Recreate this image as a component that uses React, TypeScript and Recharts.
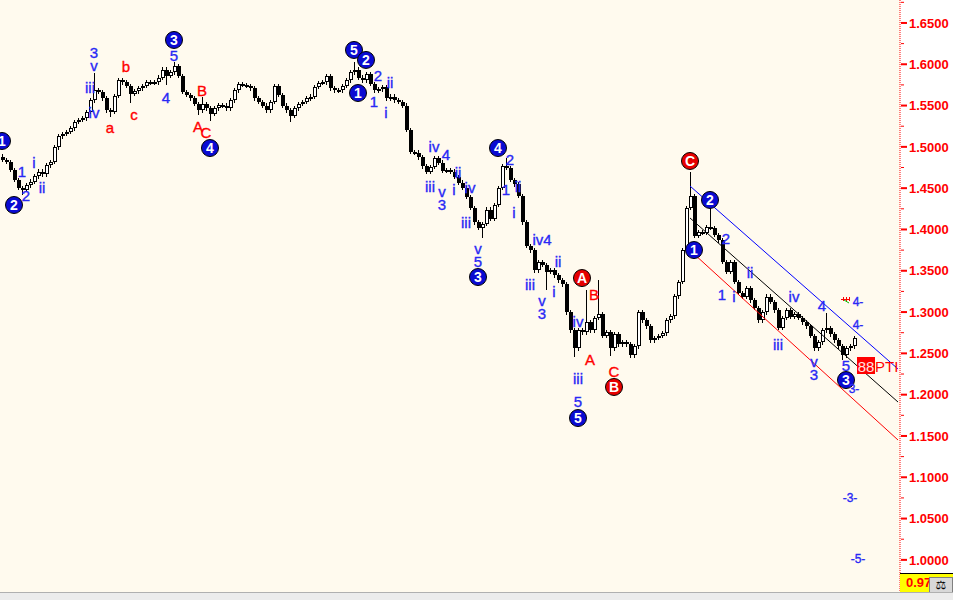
import { ComposedChart, Bar, XAxis, YAxis, ReferenceLine, ReferenceDot } from "recharts";

// closing prices, one per session (open = previous close)
const CLOSES = [
  1.4841, 1.4817, 1.472, 1.4599, 1.4502, 1.4478, 1.4538, 1.4575, 1.4647, 1.4696,
  1.4671, 1.478, 1.4817, 1.4998, 1.5131, 1.5156, 1.518, 1.5228, 1.5301, 1.5325,
  1.5349, 1.5422, 1.5567, 1.5688, 1.5664, 1.5591, 1.5446, 1.5422, 1.5616, 1.5809,
  1.5785, 1.5737, 1.564, 1.5676, 1.5712, 1.5737, 1.5785, 1.5773, 1.5785, 1.5834,
  1.5931, 1.5858, 1.5906, 1.5979, 1.5858, 1.5664, 1.5628, 1.5591, 1.5519, 1.5446,
  1.5519, 1.547, 1.5398, 1.547, 1.5507, 1.5495, 1.547, 1.5567, 1.5688, 1.5761,
  1.5749, 1.5737, 1.5712, 1.5591, 1.5543, 1.5495, 1.5446, 1.5543, 1.5737, 1.5628,
  1.5495, 1.5446, 1.5374, 1.547, 1.5519, 1.5543, 1.5591, 1.5604, 1.5725, 1.5773,
  1.5785, 1.5858, 1.5712, 1.5688, 1.5688, 1.5737, 1.5809, 1.5906, 1.5931, 1.5834,
  1.5809, 1.5882, 1.5761, 1.5688, 1.57, 1.5725, 1.5591, 1.5604, 1.5567, 1.5543,
  1.5495, 1.5204, 1.4938, 1.4926, 1.4877, 1.4768, 1.4696, 1.4756, 1.4865, 1.4805,
  1.4708, 1.472, 1.4696, 1.4635, 1.4563, 1.4502, 1.4393, 1.426, 1.409, 1.4018,
  1.4066, 1.4236, 1.4127, 1.4296, 1.4502, 1.4768, 1.4744, 1.4599, 1.455, 1.4405,
  1.409, 1.38, 1.3751, 1.3508, 1.3606, 1.357, 1.3485, 1.3508, 1.3448, 1.3387,
  1.3339, 1.3, 1.2781, 1.2564, 1.2781, 1.2757, 1.2879, 1.2781, 1.2928, 1.2976,
  1.271, 1.2757, 1.2564, 1.2734, 1.2613, 1.2637, 1.2613, 1.2479, 1.2588, 1.3,
  1.2903, 1.2831, 1.266, 1.2686, 1.271, 1.2746, 1.2903, 1.2952, 1.3194, 1.3364,
  1.3751, 1.426, 1.4405, 1.3921, 1.3969, 1.3957, 1.403, 1.4018, 1.3933, 1.3872,
  1.3606, 1.3485, 1.3606, 1.3364, 1.3231, 1.3183, 1.3291, 1.3145, 1.3049, 1.2903,
  1.3, 1.3183, 1.3122, 1.3024, 1.2807, 1.2928, 1.3024, 1.294, 1.2976, 1.2928,
  1.2879, 1.2831, 1.271, 1.2564, 1.2637, 1.2781, 1.2807, 1.2734, 1.266, 1.2588,
  1.2479, 1.2564, 1.2588, 1.2686,
];
const FIRST_OPEN = 1.488;
const WICK = 0.003;

// long shadows [session, price]
const HIGH_SPIKES = [
  [23, 1.5894], [43, 1.6028], [50, 1.5604], [88, 1.6028], [126, 1.4865],
  [146, 1.3266], [149, 1.3388], [172, 1.4696], [177, 1.4272], [206, 1.2988],
];
const LOW_SPIKES = [
  [5, 1.4417], [27, 1.5361], [32, 1.5531], [41, 1.5749], [49, 1.5386], [52, 1.5313],
  [72, 1.5301], [120, 1.3897], [136, 1.3266], [143, 1.2455], [152, 1.2467], [210, 1.2418],
];
const EMPTY_SLOTS = 11;

const Y_MIN = 0.9611;
const Y_MAX = 1.6778;
const Y_TICKS = [
  1.0, 1.025, 1.05, 1.075, 1.1, 1.125, 1.15, 1.175, 1.2, 1.225, 1.25, 1.275, 1.3,
  1.325, 1.35, 1.375, 1.4, 1.425, 1.45, 1.475, 1.5, 1.525, 1.55, 1.575, 1.6, 1.625, 1.65, 1.675,
];

// circled wave labels [session, price, text, colour]
const CIRCLES = [
  [0, 1.5071, "1", "b"], [3, 1.4296, "2", "b"], [43, 1.6294, "3", "b"], [52, 1.4986, "4", "b"],
  [88, 1.6173, "5", "b"], [91, 1.6052, "2", "b"], [89, 1.5652, "1", "b"], [124, 1.4986, "4", "b"],
  [119, 1.3424, "3", "b"], [144, 1.1717, "5", "b"], [173, 1.3751, "1", "b"], [177, 1.4357, "2", "b"],
  [211, 1.2177, "3", "b"], [145, 1.3412, "A", "r"], [153, 1.2093, "B", "r"], [172, 1.4829, "C", "r"],
];

// plain wave labels [session, price, text, colour]; "\n" stacks two labels
const TEXTS = [
  [5, 1.4696, "1", "b"], [6, 1.4405, "2", "b"], [8, 1.4805, "i", "b"], [10, 1.4502, "ii", "b"],
  [23, 1.6063, "3\nv", "b"], [22, 1.5713, "iii", "b"], [23, 1.541, "iv", "b"],
  [43, 1.61, "5", "b"], [41, 1.5592, "4", "b"],
  [27, 1.5228, "a", "r"], [31, 1.5967, "b", "r"], [33, 1.5386, "c", "r"],
  [49, 1.524, "A", "r"], [50, 1.5676, "B", "r"], [51, 1.5168, "C", "r"],
  [93, 1.5543, "1", "b"], [94, 1.5858, "2", "b"], [97, 1.5773, "ii", "b"], [96, 1.541, "i", "b"],
  [108, 1.4998, "iv", "b"], [111, 1.4901, "4", "b"], [107, 1.4514, "iii", "b"],
  [110, 1.4375, "v\n3", "b"], [114, 1.4684, "ii", "b"], [113, 1.4478, "i", "b"],
  [117, 1.4502, "iv", "b"], [116, 1.4078, "iii", "b"], [119, 1.369, "v\n5", "b"],
  [126, 1.4478, "1", "b"], [127, 1.4841, "2", "b"], [129, 1.4514, "ii", "b"], [128, 1.4199, "i", "b"],
  [135, 1.3872, "iv4", "b"], [132, 1.3327, "iii", "b"], [135, 1.3055, "v\n3", "b"],
  [139, 1.3606, "ii", "b"], [138, 1.3243, "i", "b"], [144, 1.2882, "iv", "b"], [144, 1.2192, "iii", "b"],
  [144, 1.1911, "5", "b"],
  [147, 1.2419, "A", "r"], [148, 1.3206, "B", "r"], [153, 1.2274, "C", "r"],
  [181, 1.3884, "2", "b"], [180, 1.3206, "1", "b"], [183, 1.3182, "i", "b"], [187, 1.3473, "ii", "b"],
  [194, 1.2601, "iii", "b"], [198, 1.3182, "iv", "b"], [205, 1.3073, "4", "b"],
  [203, 1.2322, "v\n3", "b"], [211, 1.2347, "5", "b"],
];

// target marks on the right [session, price, text]
const TARGETS = [
  [214, 1.3122, "4-"], [214, 1.2842, "4-"], [213, 1.2068, "3-"], [212, 1.0749, "-3-"], [214, 1.001, "-5-"],
];

// channel lines [session, price] -> [session, price]
const CHANNELS = [
  { from: [172, 1.4526], to: [224, 1.2311], color: "#0000FF" },
  { from: [172, 1.4139], to: [224, 1.1911], color: "#000000" },
  { from: [173, 1.3703], to: [224, 1.1451], color: "#FF0000" },
];

const BLUE = "#2828F5";
const RED = "#FF0000";
const FONT = "Arial, 'Liberation Sans', sans-serif";

const highFix = new Map(HIGH_SPIKES.map(([i, p]) => [i, p]));
const lowFix = new Map(LOW_SPIKES.map(([i, p]) => [i, p]));

const data = [
  ...CLOSES.map((c, i) => {
    const o = i === 0 ? FIRST_OPEN : CLOSES[i - 1];
    const hi = highFix.get(i) ?? Math.max(o, c) + WICK;
    const lo = lowFix.get(i) ?? Math.min(o, c) - WICK;
    return { i, o, c, hi, lo, range: [lo, hi] };
  }),
  ...Array.from({ length: EMPTY_SLOTS }, (_, k) => ({ i: CLOSES.length + k })),
];

const Candle = (props: any) => {
  const { x, y, width, height, payload } = props;
  if (!payload || payload.c == null) return null;
  const { o, c, hi, lo } = payload;
  const top = Math.min(y, y + height);
  const bot = Math.max(y, y + height);
  const py = (p: number) => top + ((hi - p) / (hi - lo)) * (bot - top);
  const cx = Math.floor(x + width / 2) + 0.5;
  const left = cx - 1.5;
  const bTop = Math.round(py(Math.max(o, c)));
  const bBot = Math.max(Math.round(py(Math.min(o, c))), bTop + 2);
  const up = c >= o;
  return (
    <g shapeRendering="crispEdges">
      <line x1={cx} x2={cx} y1={Math.round(top)} y2={Math.round(bot)} stroke="#000" strokeWidth={1} />
      {up ? (
        <rect x={left + 0.5} y={bTop + 0.5} width={3} height={bBot - bTop - 1} fill="#fff" stroke="#000" strokeWidth={1} />
      ) : (
        <rect x={left} y={bTop} width={4} height={bBot - bTop} fill="#000" />
      )}
    </g>
  );
};

const PriceTick = (props: any) => {
  const { x, y, payload } = props;
  const v = payload.value;
  const major = Math.abs(Math.round(v * 20) - v * 20) < 1e-6;
  return (
    <g>
      <line x1={x + 1} x2={x + (major ? 7 : 4)} y1={y} y2={y} stroke={RED} strokeWidth={major ? 2 : 1} />
      {major && v < 1.66 && (
        <text x={x + 9} y={y} dy="0.36em" fill={RED} fontSize={13} fontWeight="bold" fontFamily={FONT}>
          {v.toFixed(4)}
        </text>
      )}
    </g>
  );
};

const circleShape = (text: string, kind: string) => (p: any) => (
  <g>
    <circle cx={p.cx} cy={p.cy} r={8.5} fill={kind === "r" ? "#E60000" : "#0A0AD2"} stroke="#000" strokeWidth={1} />
    <text x={p.cx} y={p.cy} dy="0.37em" textAnchor="middle" fill="#fff" fontSize={14} fontWeight="bold" fontFamily={FONT}>
      {text}
    </text>
  </g>
);

const textShape = (text: string, kind: string, size = 15) => (p: any) => {
  const col = kind === "r" ? RED : BLUE;
  const lines = text.split("\n");
  const step = 13;
  const y0 = p.cy - ((lines.length - 1) * step) / 2;
  return (
    <text x={p.cx} y={y0} textAnchor="middle" fill={col} stroke={col} strokeWidth={0.35} fontSize={size} fontFamily={FONT}>
      {lines.map((ln, k) => (
        <tspan key={k} x={p.cx} y={y0 + k * step} dy="0.36em">
          {ln}
        </tspan>
      ))}
    </text>
  );
};

const ptiShape = (p: any) => (
  <g>
    <rect x={p.cx - 9} y={p.cy - 9} width={18} height={17} fill={RED} />
    <text x={p.cx} y={p.cy} dy="0.37em" textAnchor="middle" fill="#FFE0E0" fontSize={15} fontFamily={FONT}>88</text>
    <text x={p.cx + 9} y={p.cy} dy="0.37em" fill={RED} fontSize={15} fontFamily={FONT}>PTI</text>
  </g>
);

const markShape = (p: any) => (
  <g shapeRendering="crispEdges">
    <line x1={p.cx - 5} x2={p.cx + 4} y1={p.cy} y2={p.cy} stroke={RED} />
    <line x1={p.cx - 3} x2={p.cx - 3} y1={p.cy - 2} y2={p.cy + 2} stroke={RED} />
    <line x1={p.cx} x2={p.cx} y1={p.cy - 2} y2={p.cy + 2} stroke={RED} />
    <line x1={p.cx + 3} x2={p.cx + 3} y1={p.cy - 2} y2={p.cy + 2} stroke={RED} />
    <line x1={p.cx - 2} x2={p.cx + 3} y1={p.cy + 1} y2={p.cy + 4} stroke="#00C000" shapeRendering="auto" />
  </g>
);

const App = () => {
  return (
    <div style={{ position: "fixed", left: 0, top: 0, width: 953, height: 600, background: "#fff", overflow: "hidden" }}>
      <div style={{ position: "absolute", left: 0, top: 0, width: 900, height: 592, background: "#FFFAEE" }} />
      <div style={{ position: "absolute", left: 0, top: 0 }}>
        <ComposedChart width={953} height={592} data={data} margin={{ top: 0, right: 0, left: 0, bottom: 0 }}>
          <XAxis dataKey="i" type="category" hide />
          <YAxis
            orientation="right"
            width={53}
            domain={[Y_MIN, Y_MAX]}
            allowDataOverflow
            ticks={Y_TICKS}
            interval={0}
            tickSize={0}
            tickMargin={0}
            tickLine={false}
            axisLine={{ stroke: RED, strokeDasharray: "1 1" }}
            tick={<PriceTick />}
          />
          <Bar dataKey="range" barSize={3} isAnimationActive={false} shape={(p: any) => <Candle {...p} />} />
          {CHANNELS.map((ch, k) => (
            <ReferenceLine
              key={`ch-${k}`}
              segment={[{ x: ch.from[0], y: ch.from[1] }, { x: ch.to[0], y: ch.to[1] }]}
              stroke={ch.color}
              strokeWidth={1}
              ifOverflow="visible"
            />
          ))}
          {TEXTS.map(([i, p, t, k], n) => (
            <ReferenceDot key={`t-${n}`} x={i} y={p} r={6} ifOverflow="visible" shape={textShape(t as string, k as string)} />
          ))}
          {CIRCLES.map(([i, p, t, k], n) => (
            <ReferenceDot key={`c-${n}`} x={i} y={p} r={8} ifOverflow="visible" shape={circleShape(t as string, k as string)} />
          ))}
          {TARGETS.map(([i, p, t], n) => (
            <ReferenceDot key={`g-${n}`} x={i} y={p} r={6} ifOverflow="visible" shape={textShape(t as string, "b", 12)} />
          ))}
          <ReferenceDot x={211} y={1.3158} r={4} ifOverflow="visible" shape={markShape} />
          <ReferenceDot x={216} y={1.2347} r={8} ifOverflow="visible" shape={ptiShape} />
        </ComposedChart>
      </div>
      <div
        style={{
          position: "absolute", left: 900, top: 573, width: 53, height: 19, background: "#FFFF00",
          borderTop: "1px solid #000", boxSizing: "border-box", overflow: "hidden",
        }}
      >
        <span style={{ position: "absolute", left: 6, top: 1, color: RED, fontSize: 13, fontWeight: "bold", fontFamily: FONT }}>
          0.97
        </span>
        <div
          style={{
            position: "absolute", left: 29, top: 3, width: 24, height: 16, background: "#D8D8D8",
            border: "1px solid #808080", boxSizing: "border-box", fontSize: 12, lineHeight: "14px",
            textAlign: "center", fontFamily: "'DejaVu Sans', sans-serif",
          }}
        >
          ⚖
        </div>
      </div>
      <div style={{ position: "absolute", left: 0, top: 592, width: 953, height: 8, background: "#ECECEC", borderTop: "1px solid #B0B0B0" }} />
    </div>
  );
};

export default App;
